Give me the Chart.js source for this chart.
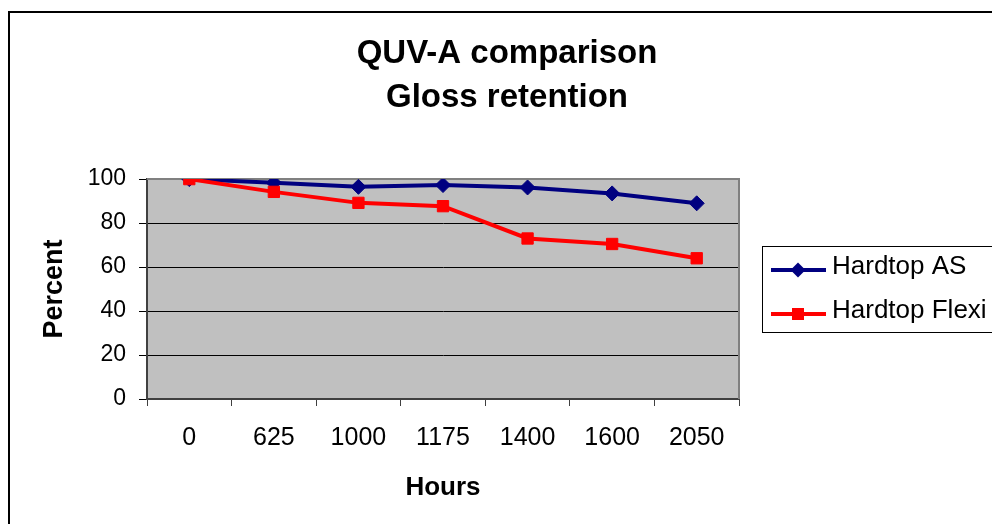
<!DOCTYPE html>
<html>
<head>
<meta charset="utf-8">
<script src="https://cdn.jsdelivr.net/npm/chart.js@4.4.0/dist/chart.umd.min.js"></script>
<style>
  html, body { margin: 0; padding: 0; background: #fff; overflow: hidden; }
  #wrap { width: 992px; height: 524px; overflow: hidden; position: relative; }
  #glossChart { position: absolute; left: 0; top: 0; }
</style>
</head>
<body>
<div id="wrap">
  <canvas id="glossChart" width="1012" height="524"></canvas>
</div>
<script>
// Data
const hours = ['0', '625', '1000', '1175', '1400', '1600', '2050'];
const hardtopAS = [100, 98.3, 96.5, 97.3, 96.2, 93.5, 89];
const hardtopFlexi = [100, 94.2, 89.2, 87.7, 73, 70.5, 64];
const yTicks = [0, 20, 40, 60, 80, 100];

const FONT = "'Liberation Sans', Arial, sans-serif";

// grey plot area, outer chart frame and plot border
const plotBackground = {
    id: 'plotBackground',
    beforeDraw(chart) {
        const { ctx, chartArea: a } = chart;
        ctx.save();
        ctx.strokeStyle = '#000';
        ctx.lineWidth = 2;
        ctx.strokeRect(9, 12, chart.width + 20, chart.height + 20);
        ctx.fillStyle = '#c0c0c0';
        ctx.fillRect(a.left, a.top, a.right - a.left, a.bottom - a.top);
        ctx.restore();
    },
    beforeDatasetsDraw(chart) {
        const { ctx, chartArea: a } = chart;
        ctx.save();
        ctx.strokeStyle = '#808080';
        ctx.lineWidth = 2;
        ctx.beginPath();
        ctx.moveTo(a.left, a.top);
        ctx.lineTo(a.right, a.top);
        ctx.lineTo(a.right, a.bottom);
        ctx.stroke();
        ctx.restore();
    }
};

// Excel style legend box on the right
const boxLegend = {
    id: 'boxLegend',
    afterDraw(chart) {
        const { ctx } = chart;
        const x0 = 762, y0 = 246, w = 260, h = 86;
        ctx.save();
        ctx.strokeStyle = '#000';
        ctx.lineWidth = 1;
        ctx.strokeRect(x0 + 0.5, y0 + 0.5, w, h);
        chart.data.datasets.forEach((ds, i) => {
            const y = 270 + i * 44;
            ctx.strokeStyle = ds.borderColor;
            ctx.lineWidth = ds.borderWidth;
            ctx.beginPath();
            ctx.moveTo(771, y);
            ctx.lineTo(826, y);
            ctx.stroke();
            ctx.fillStyle = ds.backgroundColor;
            ctx.beginPath();
            if (ds.pointStyle === 'rectRot') {
                const r = 7.5;
                ctx.moveTo(798, y - r);
                ctx.lineTo(798 + r, y);
                ctx.lineTo(798, y + r);
                ctx.lineTo(798 - r, y);
                ctx.closePath();
            } else {
                ctx.rect(798 - 6, y - 6, 12, 12);
            }
            ctx.fill();
            ctx.fillStyle = '#000';
            ctx.font = '26px ' + FONT;
            ctx.textBaseline = 'middle';
            ctx.textAlign = 'left';
            ctx.fillText(ds.label, 832, y - 3);
        });
        ctx.restore();
    }
};

const ctx = document.getElementById('glossChart').getContext('2d');

const glossChart = new Chart(ctx, {
    type: 'line',
    data: {
        labels: hours,
        datasets: [{
            label: 'Hardtop AS',
            data: hardtopAS,
            borderColor: '#000080',
            backgroundColor: '#000080',
            borderWidth: 4,
            pointStyle: 'rectRot',
            pointRadius: 7.5,
            pointBorderWidth: 1,
            tension: 0,
            order: 1
        }, {
            label: 'Hardtop Flexi',
            data: hardtopFlexi,
            borderColor: '#ff0000',
            backgroundColor: '#ff0000',
            borderWidth: 4,
            pointStyle: 'rect',
            pointRadius: 8,
            pointBorderWidth: 1,
            tension: 0,
            order: 0
        }]
    },
    options: {
        responsive: false,
        animation: false,
        layout: { padding: { left: 12, right: 10, top: 0, bottom: 10 } },
        scales: {
            x: {
                type: 'category',
                offset: true,
                grid: {
                    display: true,
                    drawOnChartArea: false,
                    drawTicks: true,
                    tickLength: 7,
                    offset: true,
                    color: '#404040'
                },
                border: { display: true, color: '#404040', width: 2 },
                ticks: {
                    color: '#000',
                    padding: 17,
                    maxRotation: 0,
                    font: { family: FONT, size: 25 }
                },
                title: {
                    display: true,
                    text: 'Hours',
                    color: '#000',
                    padding: { top: 0, bottom: 11 },
                    font: { family: FONT, size: 26, weight: 'bold' }
                },
                afterFit(scale) { scale.height = 115; }
            },
            y: {
                min: 0,
                max: 100,
                afterBuildTicks(scale) { scale.ticks = yTicks.map(v => ({ value: v })); },
                grid: { color: '#000', lineWidth: 1, tickLength: 8 },
                border: { display: true, color: '#404040', width: 2 },
                ticks: {
                    color: '#000',
                    padding: 13,
                    font: { family: FONT, size: 23 }
                },
                title: {
                    display: true,
                    text: 'Percent',
                    color: '#000',
                    padding: { top: 26, bottom: 0 },
                    font: { family: FONT, size: 27, weight: 'bold' }
                },
                afterFit(scale) { scale.width = 135; }
            },
            // empty axis that keeps room for the legend on the right
            yLegend: {
                position: 'right',
                min: 0,
                max: 1,
                grid: { display: false },
                border: { display: false },
                ticks: { display: false },
                afterFit(scale) { scale.width = 263; }
            }
        },
        plugins: {
            legend: { display: false },
            tooltip: { enabled: false },
            title: {
                display: true,
                text: ['QUV-A comparison', 'Gloss retention'],
                color: '#000',
                padding: { top: 32.5, bottom: 59.5 },
                font: { family: FONT, size: 33, weight: 'bold', lineHeight: 1.32 }
            }
        }
    },
    plugins: [plotBackground, boxLegend]
});
</script>
</body>
</html>
